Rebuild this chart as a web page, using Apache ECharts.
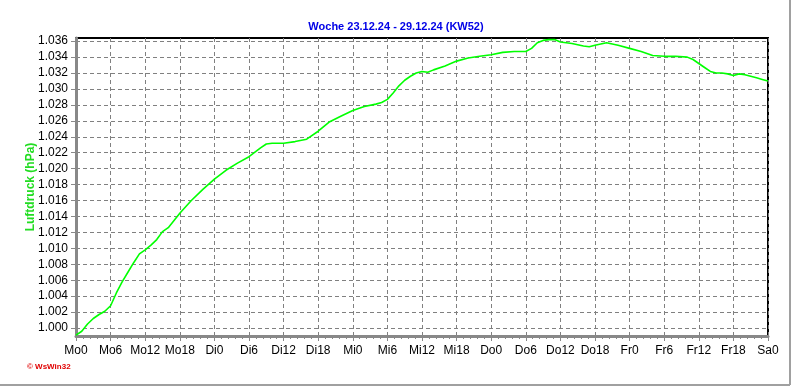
<!DOCTYPE html>
<html>
<head>
<meta charset="utf-8">
<script src="https://cdn.jsdelivr.net/npm/echarts@6/dist/echarts.min.js"></script>
<style>
  html, body { margin: 0; padding: 0; background: #fff; }
  #chart { width: 792px; height: 387px; }
</style>
</head>
<body>
<div id="chart"></div>
<script>
// hours since Monday 0:00
const hours = [0, 1, 2, 3, 4, 5, 6, 7, 8, 9, 10, 11, 12, 13, 14, 15, 16, 17, 18, 20, 22, 24, 26, 28, 30,
  32, 33, 34, 36, 38, 40, 42, 44, 46, 48, 50, 52, 53, 54, 55, 56, 57, 58, 59, 60, 61, 62, 64, 66, 68, 70,
  72, 74, 76, 78, 79, 80, 81, 82, 83, 84, 86, 88, 89, 90, 92, 94, 96, 98, 100, 102, 104, 106, 107, 108,
  109, 110, 111, 112, 113, 114, 115, 116, 118, 119, 120]
// Luftdruck in hPa
const pressure = [999.1, 999.6, 1000.5, 1001.2, 1001.7, 1002.1, 1002.8, 1004.4, 1005.8, 1007.0, 1008.2,
  1009.3, 1009.8, 1010.4, 1011.1, 1012.1, 1012.6, 1013.5, 1014.4, 1016.0, 1017.4, 1018.7, 1019.8, 1020.7,
  1021.5, 1022.6, 1023.1, 1023.2, 1023.2, 1023.4, 1023.7, 1024.7, 1025.9, 1026.6, 1027.3, 1027.8, 1028.1,
  1028.3, 1028.7, 1029.5, 1030.4, 1031.1, 1031.6, 1032.0, 1032.2, 1032.1, 1032.4, 1032.9, 1033.5, 1033.9,
  1034.1, 1034.3, 1034.6, 1034.7, 1034.7, 1035.1, 1035.8, 1036.1, 1036.2, 1036.2, 1035.9, 1035.7, 1035.4,
  1035.3, 1035.5, 1035.8, 1035.5, 1035.1, 1034.7, 1034.2, 1034.1, 1034.1, 1034.0, 1033.7, 1033.2, 1032.7,
  1032.2, 1032.0, 1032.0, 1031.9, 1031.7, 1031.9, 1031.8, 1031.4, 1031.2, 1031.0]
const dayNames = ['Mo', 'Di', 'Mi', 'Do', 'Fr', 'Sa']
const yTicks = [1000, 1002, 1004, 1006, 1008, 1010, 1012, 1014, 1016, 1018, 1020, 1022, 1024, 1026,
  1028, 1030, 1032, 1034, 1036]

const chart = echarts.init(document.getElementById('chart'))
const option = {
  animation: false,
  title: {
    text: 'Woche 23.12.24 - 29.12.24 (KW52)',
    left: 'center',
    top: 16,
    textStyle: { color: '#0000e6', fontSize: 11, fontWeight: 'bold', fontFamily: 'Liberation Sans' }
  },
  grid: {
    left: 76, right: 24, top: 38, bottom: 51,
    show: true, borderColor: '#000', borderWidth: 2
  },
  xAxis: {
    type: 'value',
    min: 0,
    max: 120,
    interval: 6,
    axisLine: { show: true, onZero: false, lineStyle: { color: '#888', width: 3 } },
    axisTick: { show: true, length: 5, lineStyle: { color: '#888' } },
    minorTick: { show: true, splitNumber: 5, length: 3, lineStyle: { color: '#888' } },
    axisLabel: {
      color: '#000', fontSize: 12, fontFamily: 'Liberation Sans', margin: 9,
      formatter: v => dayNames[Math.floor(v / 24)] + (v % 24)
    },
    splitLine: { show: true, lineStyle: { color: '#808080', type: [4, 3] } }
  },
  yAxis: {
    type: 'value',
    min: 999,
    max: 1036.4,
    axisLine: { show: true, onZero: false, lineStyle: { color: '#888', width: 3 } },
    axisTick: { show: true, length: 5, customValues: yTicks, lineStyle: { color: '#888' } },
    axisLabel: {
      color: '#000', fontSize: 12, fontFamily: 'Liberation Sans', margin: 8,
      customValues: yTicks,
      formatter: v => (v / 1000).toFixed(3)
    },
    splitLine: { show: true, lineStyle: { color: '#808080', type: [4, 3] } }
  },
  series: [
    {
      type: 'line',
      data: hours.map((h, i) => [h, pressure[i]]),
      showSymbol: false,
      lineStyle: { color: '#00ff00', width: 1.6 },
      itemStyle: { color: '#00ff00' }
    }
  ],
  graphic: [
    { type: 'line', shape: { x1: 790, y1: 0, x2: 790, y2: 385 }, style: { stroke: '#a0a0a0', lineWidth: 2 } },
    { type: 'line', shape: { x1: 0, y1: 385, x2: 790, y2: 385 }, style: { stroke: '#a0a0a0', lineWidth: 2 } },
    {
      type: 'text', x: 31, y: 187, rotation: Math.PI / 2,
      style: {
        text: 'Luftdruck (hPa)', fill: '#22dd22', font: 'bold 12px Liberation Sans',
        align: 'center', verticalAlign: 'middle'
      }
    },
    {
      type: 'text', left: 27, top: 363,
      style: { text: '\u00a9 WsWin32', fill: '#e00000', font: 'bold 8px Liberation Sans' }
    }
  ]
}
chart.setOption(option)
</script>
</body>
</html>
